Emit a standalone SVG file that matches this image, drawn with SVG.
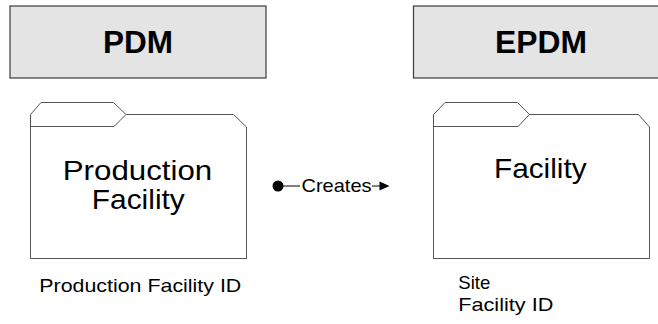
<svg xmlns="http://www.w3.org/2000/svg" width="658" height="324" viewBox="0 0 658 324">
<style>
.hdr{fill:#e4e4e4;stroke:#3a3a3a;stroke-width:1.2}
.fold{fill:#fff;stroke:#555;stroke-width:1}
.t{font-family:"Liberation Sans",Arial,sans-serif;fill:#000}
.b{font-weight:bold;font-size:32px}
.big{font-size:28px}
.sm{font-size:19px}
</style>
<rect width="658" height="324" fill="#fff"/>
<g id="pdm">
<rect class="hdr" x="10" y="6" width="256" height="72"/>
<text class="t b" x="138" y="52.5" text-anchor="middle" textLength="70" lengthAdjust="spacingAndGlyphs">PDM</text>
</g>
<g id="epdm">
<rect class="hdr" x="413.5" y="6" width="256" height="72"/>
<text class="t b" x="541" y="52.5" text-anchor="middle" textLength="92" lengthAdjust="spacingAndGlyphs">EPDM</text>
</g>
<g id="production-facility">
<path class="fold" d="M30.5,114.5 L41,102.5 L113.5,102.5 L126,114.5 L233.5,114.5 L246.5,127 L246.5,258.5 L30.5,258.5 Z"/>
<path class="fold" fill="none" d="M30.5,126.5 L114,126.5 L126,114.5"/>
<text class="t big" x="137.5" y="179.5" text-anchor="middle" textLength="149.5" lengthAdjust="spacingAndGlyphs">Production</text>
<text class="t big" x="138.3" y="209" text-anchor="middle" textLength="93" lengthAdjust="spacingAndGlyphs">Facility</text>
<text class="t sm" x="39.3" y="291.5" textLength="202" lengthAdjust="spacingAndGlyphs">Production Facility ID</text>
</g>
<g id="facility">
<path class="fold" d="M433.5,114.5 L445,102.5 L517.5,102.5 L529.5,114.5 L638.5,114.5 L649.5,127 L649.5,258.5 L433.5,258.5 Z"/>
<path class="fold" fill="none" d="M433.5,126.5 L518,126.5 L529.5,114.5"/>
<text class="t big" x="540.3" y="177.5" text-anchor="middle" textLength="92.7" lengthAdjust="spacingAndGlyphs">Facility</text>
<text class="t sm" x="458.3" y="288.5" textLength="32" lengthAdjust="spacingAndGlyphs">Site</text>
<text class="t sm" x="458.3" y="311" textLength="95" lengthAdjust="spacingAndGlyphs">Facility ID</text>
</g>
<g id="connectors">
<circle cx="278" cy="186" r="5.5" fill="#000"/>
<line x1="283" y1="186" x2="300" y2="186" stroke="#000" stroke-width="1"/>
<line x1="372" y1="186" x2="381" y2="186" stroke="#000" stroke-width="1"/>
<polygon points="379.5,181.5 389.5,186 379.5,190.5" fill="#000"/>
<text class="t sm" x="301.5" y="192" textLength="70" lengthAdjust="spacingAndGlyphs">Creates</text>
</g>
</svg>
